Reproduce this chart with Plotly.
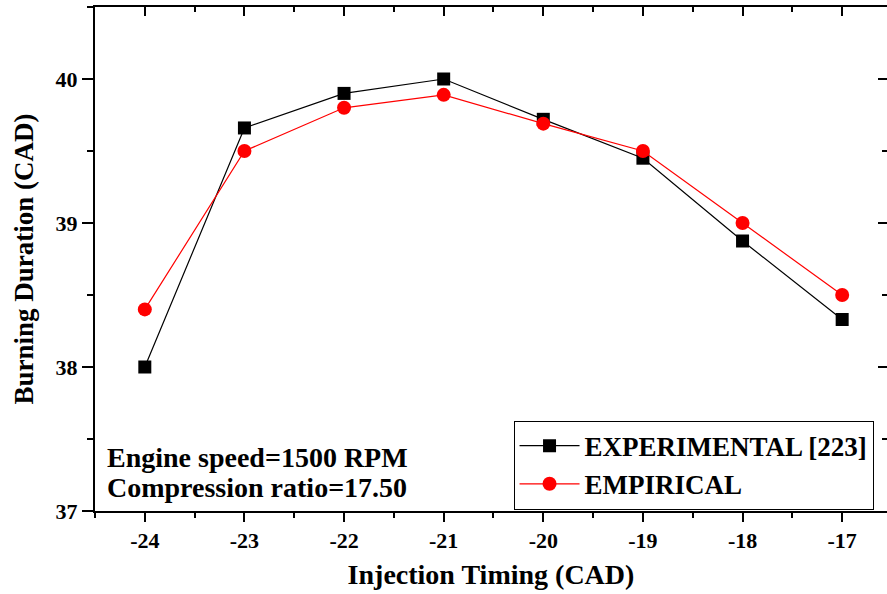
import plotly.graph_objects as go

injection_timing = [-24, -23, -22, -21, -20, -19, -18, -17]
experimental = [38.0, 39.66, 39.90, 40.0, 39.72, 39.45, 38.875, 38.33]
empirical = [38.40, 39.50, 39.80, 39.89, 39.69, 39.50, 39.00, 38.50]
x_ticks = [-24, -23, -22, -21, -20, -19, -18, -17]
y_ticks = [37, 38, 39, 40]
notes = ["Engine speed=1500 RPM", "Compression ratio=17.50"]

FONT = "Liberation Serif"

fig = go.Figure()
fig.add_trace(go.Scatter(
    x=injection_timing, y=experimental, mode="lines+markers",
    name="<b>EXPERIMENTAL [223]</b>",
    line=dict(color="black", width=1.2),
    marker=dict(symbol="square", size=13, color="black"),
))
fig.add_trace(go.Scatter(
    x=injection_timing, y=empirical, mode="lines+markers",
    name="<b>EMPIRICAL</b>",
    line=dict(color="red", width=1.2),
    marker=dict(symbol="circle", size=14, color="red"),
))
# invisible trace to activate mirrored top/right axes with inward ticks
fig.add_trace(go.Scatter(x=[injection_timing[0]], y=[experimental[0]], xaxis="x2", yaxis="y2",
                         mode="markers", marker=dict(opacity=0), showlegend=False, hoverinfo="skip"))

xr = [-24.5, -16.55]
yr = [37, 40.5]

fig.update_layout(
    width=887, height=594,
    margin=dict(l=95, r=0, t=7, b=83),
    plot_bgcolor="white", paper_bgcolor="white",
    font=dict(family=FONT, color="black"),
    showlegend=True,
    legend=dict(
        x=0.983, y=0.091, xanchor="right", yanchor="middle",
        bordercolor="black", borderwidth=1, bgcolor="white",
        font=dict(family=FONT, size=27, color="black"),
        tracegroupgap=0, itemwidth=60,
    ),
    xaxis=dict(
        range=xr, tickvals=x_ticks, ticktext=[f"<b>{v}</b>" for v in x_ticks],
        showline=True, linecolor="black", linewidth=2,
        ticks="outside", ticklen=9, tickwidth=2, tickcolor="black",
        minor=dict(dtick=0.5, tick0=-24.5, ticks="outside", ticklen=5, tickwidth=2, tickcolor="black"),
        showgrid=False, zeroline=False,
        tickfont=dict(family=FONT, size=22),
        title=dict(text="<b>Injection Timing (CAD)</b>", font=dict(family=FONT, size=28), standoff=12),
    ),
    yaxis=dict(
        range=yr, tickvals=y_ticks, ticktext=[f"<b>{v}</b>" for v in y_ticks],
        showline=True, linecolor="black", linewidth=2,
        ticks="outside", ticklen=11, tickwidth=2, tickcolor="black",
        minor=dict(dtick=0.5, tick0=37, ticks="outside", ticklen=6, tickwidth=2, tickcolor="black"),
        showgrid=False, zeroline=False,
        tickfont=dict(family=FONT, size=22),
        title=dict(text="<b>Burning Duration (CAD)</b>", font=dict(family=FONT, size=27), standoff=14),
    ),
    xaxis2=dict(
        range=xr, overlaying="x", side="top", tickvals=x_ticks, showticklabels=False,
        showline=True, linecolor="black", linewidth=2,
        ticks="inside", ticklen=9, tickwidth=2, tickcolor="black",
        minor=dict(dtick=0.5, tick0=-24.5, ticks="inside", ticklen=5, tickwidth=2, tickcolor="black"),
        showgrid=False, zeroline=False,
    ),
    yaxis2=dict(
        range=yr, overlaying="y", side="right", tickvals=y_ticks, showticklabels=False,
        showline=False,
        ticks="inside", ticklen=9, tickwidth=2, tickcolor="black",
        minor=dict(dtick=0.5, tick0=37, ticks="inside", ticklen=5, tickwidth=2, tickcolor="black"),
        showgrid=False, zeroline=False,
    ),
)

for i, note in enumerate(notes):
    fig.add_annotation(
        text=f"<b>{note}</b>",
        x=0.013, y=0.107 - 0.0595 * i, xref="paper", yref="paper", xanchor="left", yanchor="middle",
        align="left", showarrow=False, font=dict(family=FONT, size=28, color="black"),
    )

fig.write_html("out.html")
